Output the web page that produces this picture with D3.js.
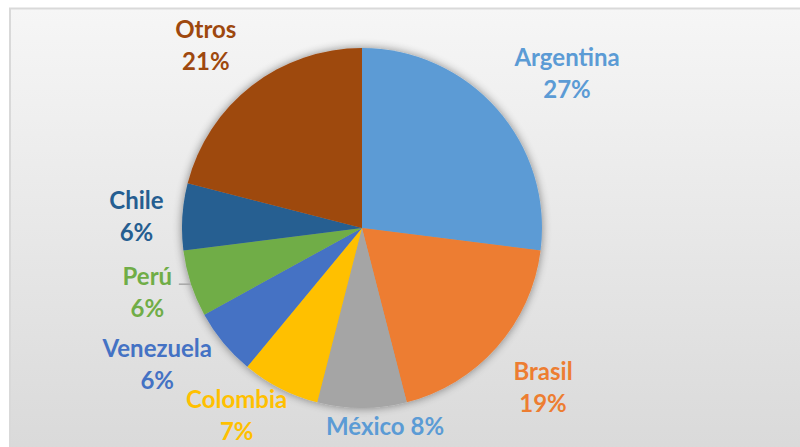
<!DOCTYPE html>
<html>
<head>
<meta charset="utf-8">
<script src="https://cdn.jsdelivr.net/npm/d3@7"></script>
<style>
  body { margin: 0; background: #fff; }
  svg { display: block; }
  text { font-family: Lato, "Open Sans", sans-serif; font-weight: 700; }
</style>
</head>
<body>
<svg id="chart" width="800" height="447"></svg>
<script>
// chart data
const countries = ["Argentina", "Brasil", "México", "Colombia", "Venezuela", "Perú", "Chile", "Otros"];
const shares = [27, 19, 8, 7, 6, 6, 6, 21];
const colors = ["#5B9BD5", "#ED7D31", "#A5A5A5", "#FFC000", "#4472C4", "#70AD47", "#255E91", "#9E480E"];
// label text colours (México's label is blue in the original)
const labelColors = ["#5B9BD5", "#ED7D31", "#5B9BD5", "#FFC000", "#4472C4", "#70AD47", "#255E91", "#9E480E"];

// small label nudges so the labels sit where Excel put them
const labelNudge = [[31, -1], [7, 7], [23, -33], [-20, -19], [-26, -11], [6, -7], [6, 4], [-14, 1]];

const width = 800, height = 447;
const cx = 362, cy = 228, radius = 180, labelRadius = 232;

const svg = d3.select("#chart");
const defs = svg.append("defs");

const grad = defs.append("linearGradient")
    .attr("id", "bg").attr("x1", 0).attr("y1", 0).attr("x2", 0).attr("y2", 1);
grad.append("stop").attr("offset", "0%").attr("stop-color", "#f6f6f6");
grad.append("stop").attr("offset", "100%").attr("stop-color", "#d8d8d8");

const shadow = defs.append("filter").attr("id", "shadow")
    .attr("x", "-20%").attr("y", "-20%").attr("width", "140%").attr("height", "140%");
shadow.append("feGaussianBlur").attr("in", "SourceAlpha").attr("stdDeviation", 5);
shadow.append("feComponentTransfer").append("feFuncA").attr("type", "linear").attr("slope", 0.45);
const merge = shadow.append("feMerge");
merge.append("feMergeNode");
merge.append("feMergeNode").attr("in", "SourceGraphic");

// chart area (runs past the right and bottom edges like the screenshot)
svg.append("rect")
    .attr("x", 10).attr("y", 8.5)
    .attr("width", width + 20).attr("height", height + 20)
    .attr("fill", "url(#bg)")
    .attr("stroke", "#d9d9d9").attr("stroke-width", 2);

const data = countries.map((c, i) => ({
    name: c, value: shares[i], color: colors[i], labelColor: labelColors[i], nudge: labelNudge[i]
}));

const pie = d3.pie().sort(null).value(d => d.value);
const arc = d3.arc().innerRadius(0).outerRadius(radius);
const labelArc = d3.arc().innerRadius(labelRadius).outerRadius(labelRadius);
const arcs = pie(data);

const g = svg.append("g").attr("transform", `translate(${cx},${cy})`);

g.append("g").attr("filter", "url(#shadow)")
    .selectAll("path")
    .data(arcs)
    .enter()
    .append("path")
    .attr("d", arc)
    .attr("fill", d => d.data.color);

const labels = g.selectAll(".label")
    .data(arcs)
    .enter()
    .append("g")
    .attr("class", "label")
    .attr("transform", d => {
        const [x, y] = labelArc.centroid(d);
        return `translate(${x + d.data.nudge[0]},${y + d.data.nudge[1]})`;
    });

labels.each(function(d) {
    const t = d3.select(this).append("text")
        .attr("text-anchor", "middle")
        .attr("font-size", 24)
        .attr("fill", d.data.labelColor);
    if (d.data.name === "México") {
        t.attr("y", 8).text(`${d.data.name} ${d.data.value}%`);
    } else {
        t.append("tspan").attr("x", 0).attr("y", -8).text(d.data.name);
        t.append("tspan").attr("x", 0).attr("y", 24).text(`${d.data.value}%`);
    }
});

// leader line for Perú
const peru = arcs[5];
const [px, py] = labelArc.centroid(peru);
const ly = py + peru.data.nudge[1] - 9;
g.append("line")
    .attr("x1", -Math.sqrt(radius * radius - ly * ly) - 12)
    .attr("x2", -Math.sqrt(radius * radius - ly * ly))
    .attr("y1", ly + 0.5).attr("y2", ly + 0.5)
    .attr("stroke", "#a6a6a6").attr("stroke-width", 1.5);
</script>
</body>
</html>
